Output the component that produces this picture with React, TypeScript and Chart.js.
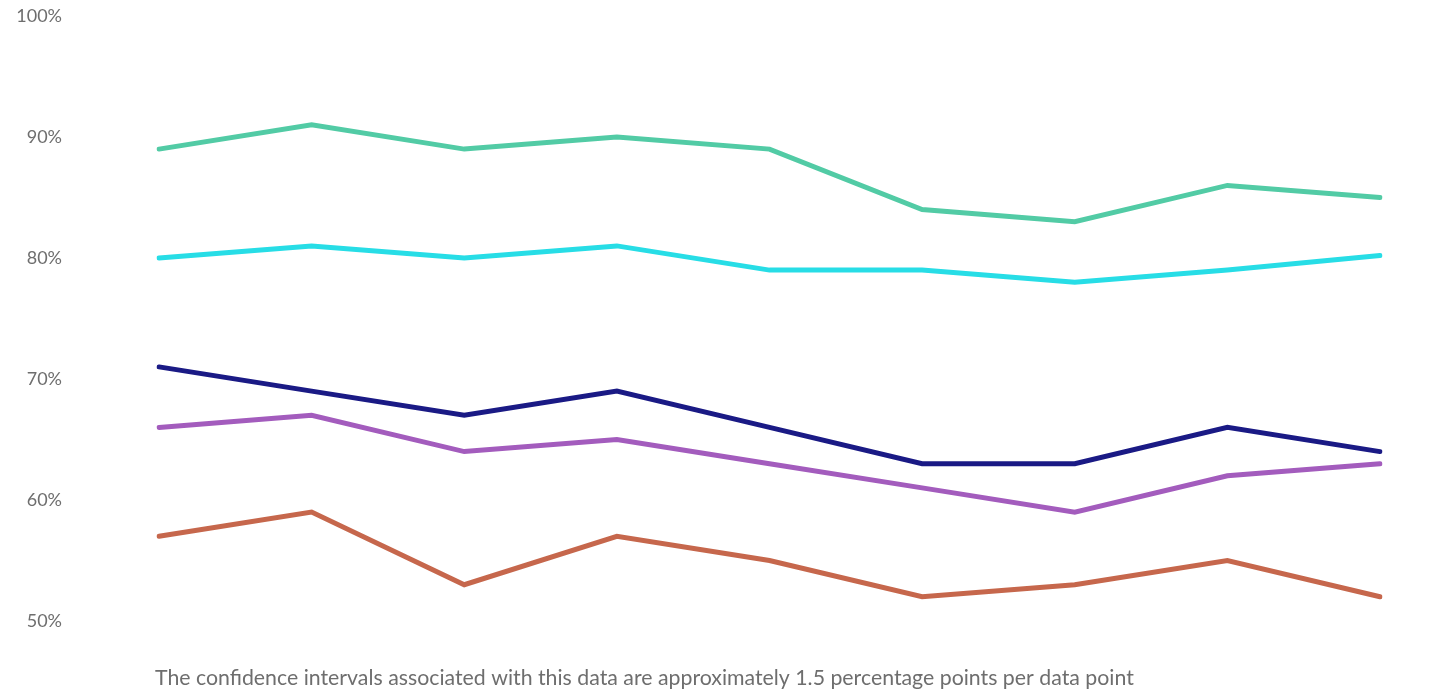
import React, { useEffect, useRef } from "react";
import { Chart, registerables } from "chart.js";

Chart.register(...registerables);

const waves = ["W1", "W2", "W3", "W4", "W5", "W6", "W7", "W8", "W9"];

const seriesGreen = [89, 91, 89, 90, 89, 84, 83, 86, 85];
const seriesCyan = [80, 81, 80, 81, 79, 79, 78, 79, 80.2];
const seriesNavy = [71, 69, 67, 69, 66, 63, 63, 66, 64];
const seriesPurple = [66, 67, 64, 65, 63, 61, 59, 62, 63];
const seriesOrange = [57, 59, 53, 57, 55, 52, 53, 55, 52];

const yTicks = [50, 60, 70, 80, 90, 100];

const footnote =
  "The confidence intervals associated with this data are approximately 1.5 percentage points per data point";

const FONT = "Lato, 'Open Sans', sans-serif";
const TEXT_GREY = "#6e6e6e";

// Draws the footnote just below the plot area, aligned with its left edge.
const footnotePlugin = {
  id: "footnote",
  afterDraw(chart: any) {
    const { ctx, chartArea } = chart;
    ctx.save();
    ctx.fillStyle = TEXT_GREY;
    ctx.font = `21.3px ${FONT}`;
    ctx.textAlign = "left";
    ctx.textBaseline = "middle";
    ctx.fillText(footnote, chartArea.left - 4, chartArea.bottom + 57);
    ctx.restore();
  },
};

export default function App() {
  const canvasRef = useRef<HTMLCanvasElement | null>(null);

  useEffect(() => {
    if (!canvasRef.current) return;
    const line = (data: number[], color: string) => ({
      data,
      borderColor: color,
      backgroundColor: color,
      borderWidth: 5,
      borderCapStyle: "round" as const,
      borderJoinStyle: "miter" as const,
      pointRadius: 0,
      pointHoverRadius: 0,
      tension: 0,
      fill: false,
    });

    const chart = new Chart(canvasRef.current, {
      type: "line",
      data: {
        labels: waves,
        datasets: [
          line(seriesGreen, "#52cba5"),
          line(seriesCyan, "#27dde6"),
          line(seriesNavy, "#1a1a85"),
          line(seriesPurple, "#a35cbd"),
          line(seriesOrange, "#c6674c"),
        ],
      },
      plugins: [footnotePlugin],
      options: {
        animation: false,
        responsive: false,
        layout: { padding: { top: 16, right: 65, bottom: 72, left: 0 } },
        plugins: {
          legend: { display: false },
          tooltip: { enabled: false },
          title: { display: false },
        },
        scales: {
          x: {
            type: "category",
            display: false,
            offset: false,
          },
          y: {
            min: 50,
            max: 100,
            afterFit: (scale: any) => {
              // fixed gutter for the tick labels; the large horizontal
              // tick padding must not add vertical padding
              scale.width = 159;
              scale.paddingTop = 0;
              scale.paddingBottom = 0;
            },
            afterBuildTicks: (scale: any) => {
              scale.ticks = yTicks.map((v) => ({ value: v }));
            },
            grid: { display: false, drawTicks: false },
            border: { display: false },
            ticks: {
              padding: 97,
              color: TEXT_GREY,
              font: { family: FONT, size: 18 },
              callback: (v: any) => `${v}%`,
            },
          },
        },
      },
    });
    return () => chart.destroy();
  }, []);

  return (
    <div style={{ position: "fixed", left: 0, top: 0, width: 1445, height: 693, background: "#fff" }}>
      <canvas ref={canvasRef} width={1445} height={693} style={{ display: "block" }} />
    </div>
  );
}
